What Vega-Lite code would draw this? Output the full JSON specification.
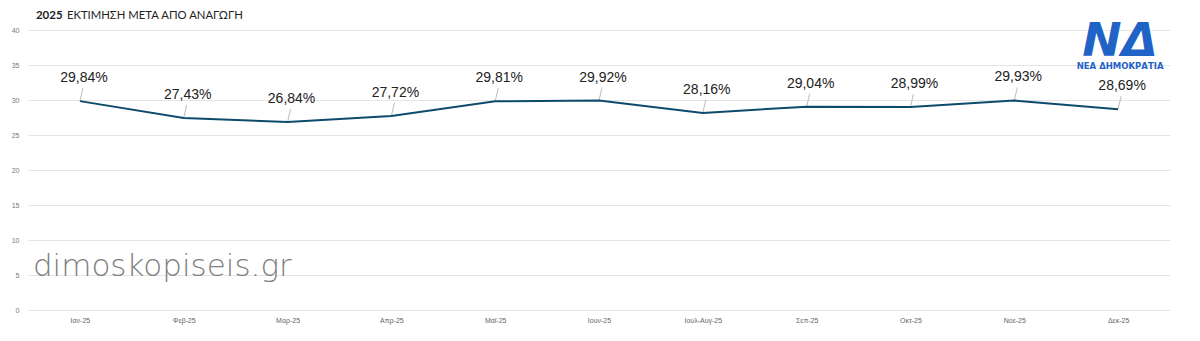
{
  "$schema": "https://vega.github.io/schema/vega-lite/v6.json",
  "autosize": "none",
  "width": 1142,
  "height": 280,
  "padding": {"left": 28, "top": 30, "right": 30, "bottom": 31},
  "background": "white",
  "config": {"view": {"stroke": null}, "font": "Liberation Sans"},
  "resolve": {"axis": {"x": "independent", "y": "independent"}},
  "layer": [
    {
      "data": {"values": [
        {"month": "Ιαν-25", "value": 29.84, "label": "29,84%"},
        {"month": "Φεβ-25", "value": 27.43, "label": "27,43%"},
        {"month": "Μαρ-25", "value": 26.84, "label": "26,84%"},
        {"month": "Απρ-25", "value": 27.72, "label": "27,72%"},
        {"month": "Μαϊ-25", "value": 29.81, "label": "29,81%"},
        {"month": "Ιουν-25", "value": 29.92, "label": "29,92%"},
        {"month": "Ιουλ-Αυγ-25", "value": 28.16, "label": "28,16%"},
        {"month": "Σεπ-25", "value": 29.04, "label": "29,04%"},
        {"month": "Οκτ-25", "value": 28.99, "label": "28,99%"},
        {"month": "Νοε-25", "value": 29.93, "label": "29,93%"},
        {"month": "Δεκ-25", "value": 28.69, "label": "28,69%"}
      ]},
      "encoding": {
        "x": {"field": "month", "type": "nominal", "sort": null,
          "scale": {"type": "point", "padding": 0.5},
          "axis": {"title": null, "domain": false, "ticks": false, "labelAngle": 0, "labelFontSize": 7, "labelColor": "#666", "labelPadding": 6, "grid": false}},
        "y": {"field": "value", "type": "quantitative",
          "scale": {"domain": [0, 40], "nice": false},
          "axis": {"title": null, "domain": false, "ticks": false, "values": [0,5,10,15,20,25,30,35,40], "labelFontSize": 7, "labelColor": "#777", "labelPadding": 9, "gridColor": "#e5e5e5", "gridWidth": 1}}
      },
      "layer": [
        {"mark": {"type": "rule", "color": "#bdbdbd", "strokeWidth": 1, "y2Offset": -13, "x2Offset": 3}, "encoding": {"x2": {"field": "month"}, "y2": {"field": "value"}}},
        {"mark": {"type": "line", "color": "#0e4a6b", "strokeWidth": 2}},
        {"mark": {"type": "text", "fontSize": 14, "color": "#222", "dx": 4, "dy": -23, "font": "Liberation Sans"}, "encoding": {"text": {"field": "label"}}}
      ]
    },
    {"data": {"values": [{"t": "2025"}]}, "mark": {"type": "text", "align": "left", "baseline": "middle", "fontSize": 11.5, "fontWeight": "bold", "color": "#222", "font": "Lato", "dx": -44, "dy": -14},
      "encoding": {"x": {"datum": "Ιαν-25", "type": "nominal", "axis": null}, "y": {"datum": 40, "type": "quantitative", "axis": null}, "text": {"field": "t", "type": "nominal"}}},
    {"data": {"values": [{"t": "ΕΚΤΙΜΗΣΗ ΜΕΤΑ ΑΠΟ ΑΝΑΓΩΓΗ"}]}, "mark": {"type": "text", "align": "left", "baseline": "middle", "fontSize": 11.3, "color": "#222", "font": "Lato", "dx": -13, "dy": -14},
      "encoding": {"x": {"datum": "Ιαν-25", "type": "nominal", "axis": null}, "y": {"datum": 40, "type": "quantitative", "axis": null}, "text": {"field": "t", "type": "nominal"}}},
    {"data": {"values": [{"t": "dimoskopiseis.gr"}]}, "mark": {"type": "text", "align": "left", "baseline": "alphabetic", "fontSize": 31, "color": "#808080", "font": "DejaVu Sans", "fontWeight": 200, "dx": -47, "dy": 11},
      "encoding": {"x": {"datum": "Ιαν-25", "type": "nominal", "axis": null}, "y": {"datum": 6.5, "type": "quantitative", "axis": null}, "text": {"field": "t", "type": "nominal"}}},
    {"data": {"values": [{"t": "ΝΔ"}]}, "mark": {"type": "text", "align": "center", "baseline": "alphabetic", "fontSize": 47, "fontWeight": "bold", "fontStyle": "italic", "color": "#1f63c6", "font": "DejaVu Sans", "dx": 2},
      "encoding": {"x": {"datum": "Δεκ-25", "type": "nominal", "axis": null}, "y": {"datum": 36.3, "type": "quantitative", "axis": null}, "text": {"field": "t", "type": "nominal"}}},
    {"data": {"values": [{"t": "ΝΕΑ ΔΗΜΟΚΡΑΤΙΑ"}]}, "mark": {"type": "text", "align": "center", "baseline": "middle", "fontSize": 8.5, "fontWeight": "bold", "color": "#1f63c6", "font": "DejaVu Sans", "dx": 2, "dy": 2},
      "encoding": {"x": {"datum": "Δεκ-25", "type": "nominal", "axis": null}, "y": {"datum": 35.1, "type": "quantitative", "axis": null}, "text": {"field": "t", "type": "nominal"}}}
  ]
}
